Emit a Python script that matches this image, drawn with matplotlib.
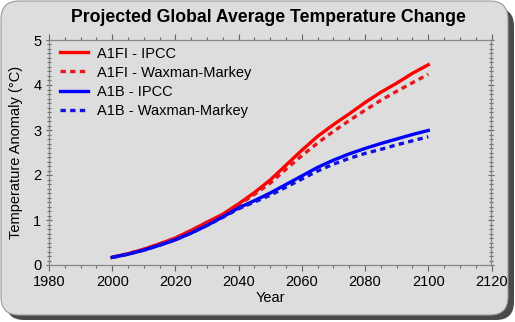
import numpy as np
import matplotlib
matplotlib.use("Agg")
import matplotlib.pyplot as plt
from matplotlib.patches import FancyBboxPatch
from matplotlib.ticker import MultipleLocator

plt.rcParams["font.family"] = ["Liberation Sans", "DejaVu Sans"]

years = [2000, 2005, 2010, 2015, 2020, 2025, 2030, 2035, 2040, 2045, 2050,
         2055, 2060, 2065, 2070, 2075, 2080, 2085, 2090, 2095, 2100]
a1fi_ipcc = [0.17, 0.25, 0.35, 0.47, 0.60, 0.77, 0.95, 1.13, 1.36, 1.61, 1.89,
             2.22, 2.55, 2.86, 3.12, 3.36, 3.61, 3.84, 4.04, 4.26, 4.45]
a1fi_wm   = [0.17, 0.25, 0.35, 0.47, 0.60, 0.77, 0.95, 1.12, 1.34, 1.57, 1.82,
             2.13, 2.43, 2.71, 2.97, 3.21, 3.44, 3.66, 3.86, 4.05, 4.24]
a1b_ipcc  = [0.17, 0.24, 0.33, 0.44, 0.56, 0.71, 0.88, 1.07, 1.27, 1.43, 1.60,
             1.79, 1.98, 2.17, 2.33, 2.47, 2.59, 2.70, 2.80, 2.90, 2.99]
a1b_wm    = [0.17, 0.24, 0.33, 0.44, 0.56, 0.71, 0.88, 1.06, 1.25, 1.40, 1.55,
             1.73, 1.91, 2.09, 2.24, 2.37, 2.48, 2.57, 2.67, 2.76, 2.85]

W, H = 515, 322
fig = plt.figure(figsize=(W / 100, H / 100), dpi=100)
fig.patch.set_facecolor("white")

# rounded grey panel with dark drop shadow (behind the axes)
shadow = FancyBboxPatch((6 / W, 2 / H), 508 / W, 312 / H,
                        boxstyle="round,pad=0,rounding_size=0.035",
                        transform=fig.transFigure, facecolor="#4a4a4a",
                        edgecolor="none", mutation_aspect=W / H, zorder=-3)
panel = FancyBboxPatch((1 / W, 7 / H), 507 / W, 314 / H,
                       boxstyle="round,pad=0,rounding_size=0.035",
                       transform=fig.transFigure, facecolor="#dddddd",
                       edgecolor="#9a9a9a", lw=0.8, mutation_aspect=W / H,
                       zorder=-2)
fig.patches.extend([shadow, panel])

ax = fig.add_axes([49 / W, 57 / H, 442.5 / W, 225 / H])
ax.set_facecolor("none")

dash = (0, (1.6, 1.3))
ax.plot(years, a1fi_ipcc, color="#ff0000", lw=2.4, label="A1FI - IPCC")
ax.plot(years, a1fi_wm, color="#e8141e", lw=2.4, ls=dash,
        label="A1FI - Waxman-Markey")
ax.plot(years, a1b_ipcc, color="#0000ff", lw=2.4, label="A1B - IPCC")
ax.plot(years, a1b_wm, color="#1010e0", lw=2.4, ls=dash,
        label="A1B - Waxman-Markey")

ax.set_xlim(1980, 2120)
ax.set_ylim(0, 5)
ax.xaxis.set_major_locator(MultipleLocator(20))
ax.xaxis.set_minor_locator(MultipleLocator(5))
ax.yaxis.set_major_locator(MultipleLocator(1))
ax.yaxis.set_minor_locator(MultipleLocator(0.1))
ax.tick_params(which="both", direction="out", color="#666666",
               labelsize=10.5, top=True, right=True, width=0.8)
ax.tick_params(which="major", length=4)
ax.tick_params(which="minor", length=2.5)
ax.tick_params(axis="y", which="both", direction="inout")
for s in ax.spines.values():
    s.set_color("#888888")
    s.set_linewidth(0.9)

ax.set_xlabel("Year", fontsize=10.5, labelpad=1)
ax.set_ylabel("Temperature Anomaly (\u00b0C)", fontsize=10.5, labelpad=7)
fig.text(268 / W, 1 - 18 / H, "Projected Global Average Temperature Change",
         ha="center", va="center", fontsize=12.7, fontweight="bold")

ax.legend(loc="upper left", frameon=False, fontsize=10.5, handlelength=1.9,
          handletextpad=0.65, labelspacing=0.35, borderaxespad=0.2,
          bbox_to_anchor=(0.005, 1.01))

fig.savefig("out.png", dpi=100, facecolor=fig.get_facecolor())
